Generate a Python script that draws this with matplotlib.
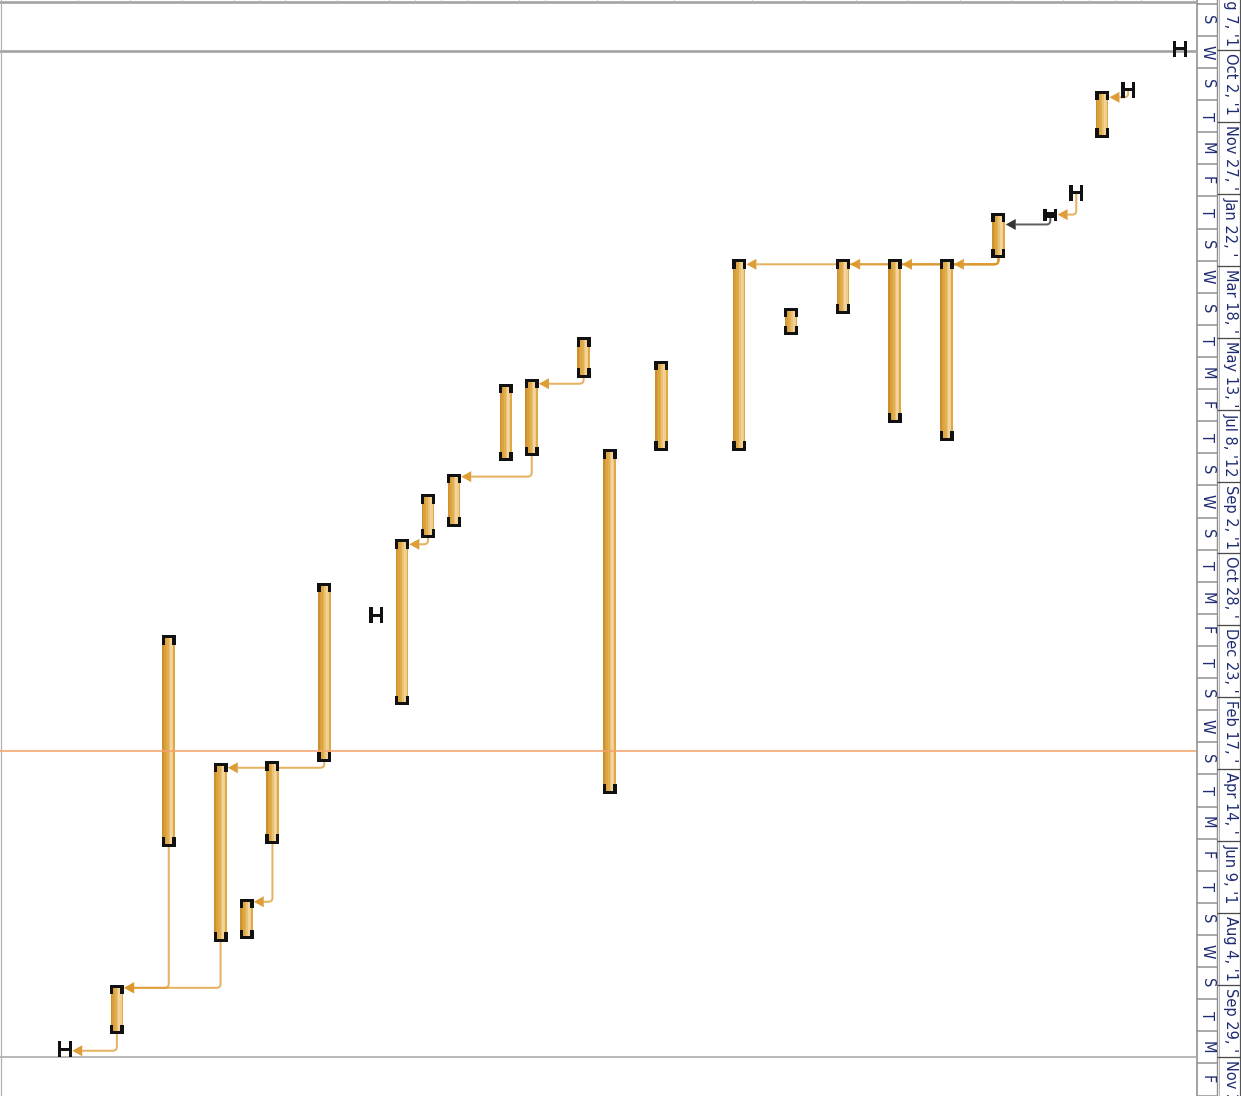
import numpy as np
import pandas as pd
import matplotlib
matplotlib.use("Agg")
import matplotlib.pyplot as plt
import matplotlib.dates as mdates
from matplotlib.patches import Rectangle, Polygon, PathPatch
from matplotlib.path import Path

# ---------------------------------------------------------------- schedule
# Row index of each task (counted from the left edge of the chart)
rows = [43, 41, 40, 39, 38, 36, 34, 32, 30, 28, 26, 23, 21, 20, 18, 17,
        15, 14, 13, 12, 10, 8, 7, 6, 4, 2, 0]
starts = ["2011-10-01", "2011-11-02", "2011-11-04", "2012-01-21", "2012-02-06",
          "2012-02-07", "2012-03-14", "2012-03-14", "2012-03-14", "2012-04-21",
          "2012-03-14", "2012-06-01", "2012-08-09", "2012-05-14", "2012-06-15",
          "2012-06-19", "2012-08-28", "2012-09-13", "2012-10-18", "2012-12-15",
          "2012-11-21", "2013-04-09", "2013-07-25", "2013-04-10", "2013-01-01",
          "2013-09-30", "2013-11-18"]
finishes = ["2011-10-01", "2011-11-02", "2011-12-08", "2012-01-21", "2012-02-09",
            "2012-03-11", "2012-07-31", "2012-07-17", "2012-04-23", "2012-05-10",
            "2012-08-08", "2012-08-08", "2013-05-02", "2012-06-12", "2012-08-12",
            "2012-08-16", "2012-10-06", "2012-10-15", "2013-02-22", "2012-12-15",
            "2013-04-07", "2013-06-10", "2013-08-23", "2013-08-25", "2013-06-12",
            "2013-11-05", "2013-11-18"]

# Finish-to-start dependencies: predecessor row -> successor row
link_pred = [41, 39, 38, 36, 36, 36, 36, 20, 18, 14, 10, 8, 6, 4, 2]
link_succ = [40, 38, 36, 34, 32, 30, 26, 18, 15, 13, 6, 7, 2, 2, 0]
link_external = [False, False, True, False, False, False, False, False,
                 False, False, False, False, False, False, False]

status_date = "2013-03-31"
page_lines = ["2011-08-26", "2011-10-03", "2013-11-24"]

# Timescale tiers
major_first, major_step_days, major_count = "2011-08-07", 56, 16
minor_first, minor_step_days, minor_count = "2011-08-27", 25, 36

# ---------------------------------------------------------------- layout
FIG_W, FIG_H, DPI = 1241, 1096, 100
CHART_W = 1196            # width of the bar area in pixels
ROW_PX = 25.93            # pixels per task row
ROW0_PX = 65              # pixel position of row 0
PX_PER_DAY = 1.2844
REF_DATE, REF_PX = "2011-10-02", 50
PT = 72.0 / DPI           # points per pixel

BAR_COLS = ["#CC912E", "#D99F3A", "#DDA643", "#E2AF50", "#EAC273",
            "#F2D59E", "#F0CF8E", "#DFA947"]
LINK_COL = "#DC982C"
CAP_COL = "#111111"
GRID_COL = "#a2a2a2"
TEXT_COL = "#1f2b72"


def to_num(values):
    return mdates.date2num(pd.to_datetime(values).to_numpy())


s_num = dict(zip(rows, to_num(starts)))
f_num = dict(zip(rows, to_num(finishes)))
ref = to_num([REF_DATE])[0]
view_top = ref - REF_PX / PX_PER_DAY
view_bottom = ref + (FIG_H - REF_PX) / PX_PER_DAY

dx = 1.0 / ROW_PX          # rows per pixel
dy = 1.0 / PX_PER_DAY      # days per pixel

fig = plt.figure(figsize=(FIG_W / DPI, FIG_H / DPI), dpi=DPI)
fig.patch.set_facecolor("white")
ax = fig.add_axes([0, 0, CHART_W / FIG_W, 1])
axs = fig.add_axes([CHART_W / FIG_W, 0, 1 - CHART_W / FIG_W, 1], sharey=ax)
ax.set_xlim(-ROW0_PX / ROW_PX, (CHART_W - ROW0_PX) / ROW_PX)
ax.set_ylim(view_bottom, view_top)
ax.axis("off")
axs.set_xlim(0, FIG_W - CHART_W)
axs.axis("off")

# ---------------------------------------------------------------- frame lines
pl = to_num(page_lines)
ax.axhline(pl[0], color=GRID_COL, lw=2.6 * PT, zorder=1)
ax.axhline(pl[1], color=GRID_COL, lw=2.6 * PT, zorder=1)
ax.axhline(pl[2], color="#a8a8a8", lw=1.6 * PT, zorder=1)
ax.vlines([r + 0.5 for r in rows], view_top, pl[0], colors="#b4b4b4",
          lw=1.2 * PT, zorder=1)
ax.axvline(ax.get_xlim()[0] + 1 * dx, color="#b0b0b0", lw=1.2 * PT, zorder=1)

# status date
ax.axhline(to_num([status_date])[0], color="#F4A36C", lw=1.6 * PT, zorder=5)

# ---------------------------------------------------------------- links
BAR_W = 12.5
AL, AH = 10.0, 5.5
for p, q, ext in zip(link_pred, link_succ, link_external):
    col = "#2a2a2a" if ext else LINK_COL
    xp, fp = p, f_num[p]
    sq = s_num[q]
    yl = max(sq, fp + 6 * dy) + 1.5 * dy
    tip = q + (BAR_W / 2 + 1) * dx
    rad = min(4.0, (yl - fp) / dy - 1)
    verts = [(xp, fp + 1 * dy), (xp, yl - rad * dy), (xp, yl),
             (xp - rad * dx, yl), (tip + AL * dx, yl)]
    codes = [Path.MOVETO, Path.LINETO, Path.CURVE3, Path.CURVE3, Path.LINETO]
    ax.add_patch(PathPatch(Path(verts, codes), fill=False, edgecolor=col,
                           lw=2.0 * PT, alpha=0.75, capstyle="butt", zorder=2))
    ax.add_patch(Polygon([(tip, yl), (tip + AL * dx, yl - AH * dy),
                          (tip + AL * dx, yl + AH * dy)], closed=True,
                         facecolor=col, edgecolor="none", alpha=0.95, zorder=4))

# ---------------------------------------------------------------- bars
xr = np.array(rows, dtype=float)
s_arr = np.array([s_num[r] for r in rows])
f_arr = np.array([f_num[r] for r in rows])
n = len(BAR_COLS)
sw = BAR_W * dx / n
for k, c in enumerate(BAR_COLS):
    ax.bar(xr - BAR_W * dx / 2 + (k + 0.5) * sw, f_arr - s_arr, bottom=s_arr,
           width=sw * 1.02, color=c, linewidth=0, zorder=3)

# bar end brackets
CAP_W, CAP_T, LEG, LEG_W = 14.0, 3.0, 8.0, 3.4
for x, s, f in zip(xr, s_arr, f_arr):
    xl = x - CAP_W * dx / 2
    xrgt = x + CAP_W * dx / 2 - LEG_W * dx
    for y, sign in ((s, 1), (f, -1)):
        ax.add_patch(Rectangle((xl, y - CAP_T * dy / 2), CAP_W * dx, CAP_T * dy,
                               facecolor=CAP_COL, edgecolor="none", zorder=4))
        y0 = y if sign > 0 else y - LEG * dy
        for xx in (xl, xrgt):
            ax.add_patch(Rectangle((xx, y0), LEG_W * dx, LEG * dy,
                                   facecolor=CAP_COL, edgecolor="none", zorder=4))

# ---------------------------------------------------------------- timescale
font = ["DejaVu Sans"]
SW = FIG_W - CHART_W
MINOR_R, MAJOR_L = 21.0, 23.0

axs.axvline(1.0, color="#8e8e8e", lw=1.6 * PT)
axs.axvline(MINOR_R, color="#8e8e8e", lw=1.4 * PT)
axs.axvline(MAJOR_L, color="#b5b5b5", lw=1.0 * PT)
axs.axvline(SW - 0.8, color="#555555", lw=1.2 * PT)

minor_dates = pd.date_range(minor_first, periods=minor_count,
                            freq=f"{minor_step_days}D")
for d in minor_dates:
    y0 = to_num([d])[0]
    axs.plot([1.0, MINOR_R], [y0, y0], color="#8e8e8e", lw=1.5 * PT,
             solid_capstyle="butt")
    ym = y0 + minor_step_days / 2
    axs.text((1.0 + MINOR_R) / 2, ym, d.strftime("%a")[0], rotation=-90,
             ha="center", va="center", fontsize=10.5, color=TEXT_COL,
             family=font, clip_on=True)

# major labels are shortened character by character until they fit the cell
renderer = fig.canvas.get_renderer()
cell_px = major_step_days * PX_PER_DAY - 5
major_dates = pd.date_range(major_first, periods=major_count,
                            freq=f"{major_step_days}D")
for d in major_dates:
    y0 = to_num([d])[0]
    axs.plot([MINOR_R, SW], [y0, y0], color="#4a4a4a", lw=1.3 * PT,
             solid_capstyle="butt")
    label = f"{d:%b} {d.day}, '{d:%y}"
    t = axs.text(34.5, y0 + 3 * dy, label, rotation=-90,
                 ha="center", va="top", fontsize=10.5, color=TEXT_COL,
                 family=font, clip_on=True)
    while len(label) > 1 and t.get_window_extent(renderer).height > cell_px:
        label = label[:-1]
        t.set_text(label)

fig.savefig("out.png", dpi=DPI, facecolor="white")
